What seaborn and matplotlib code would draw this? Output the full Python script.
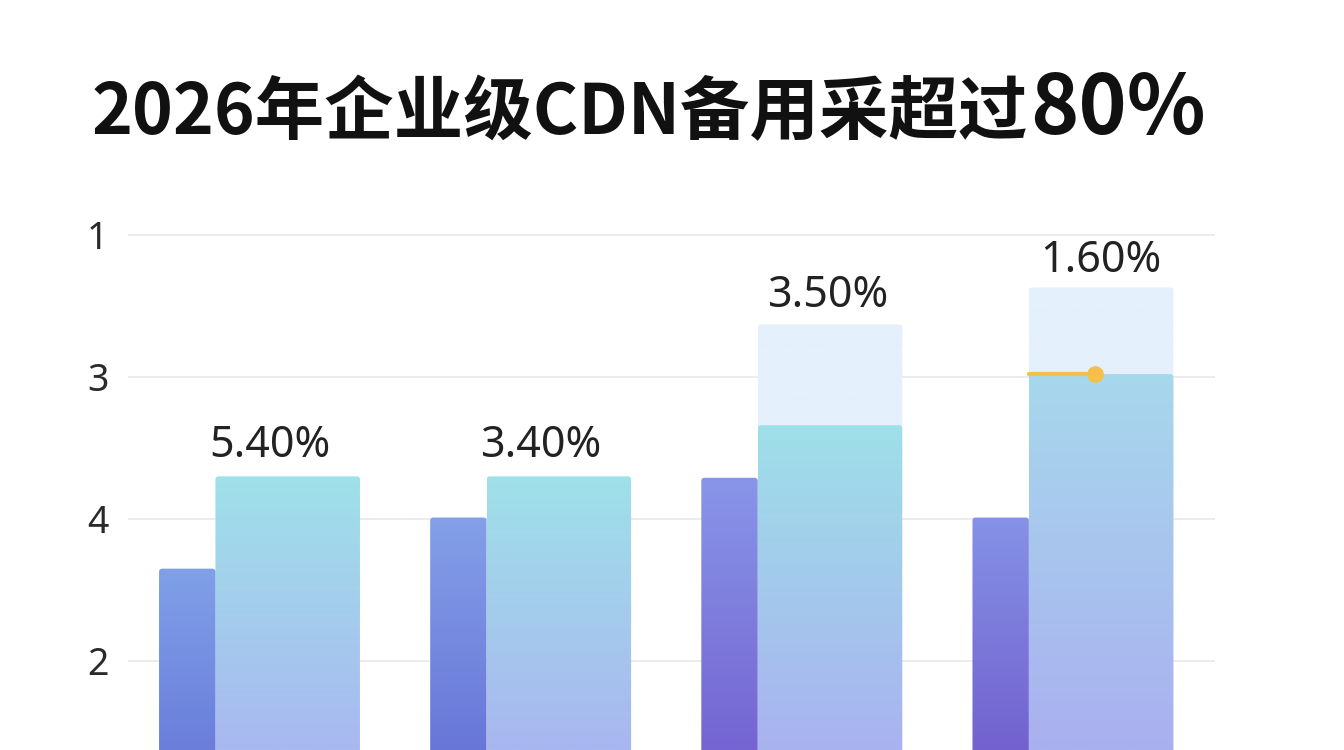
import numpy as np
import pandas as pd
import seaborn as sns
import matplotlib.pyplot as plt
from matplotlib.colors import to_rgb
from matplotlib.patches import FancyBboxPatch

# ---- data ----
groups = ['A', 'B', 'C', 'D']
dark_vals = [1.65, 2.01, 2.29, 2.01]
light_vals = [2.30, 2.30, 2.66, 3.02]
pale_vals = [0.0, 0.0, 3.37, 3.63]
pct_labels = ['5.40%', '3.40%', '3.50%', '1.60%']
marker_value = 3.02  # yellow marker on last group
tick_vals = [1, 2, 3, 4]
tick_text = ['2', '4', '3', '1']

title_main = '2026年企业级CDN备用采超过'
title_tail = '80%'

# ---- style ----
sns.set_style('white')
plt.rcParams['font.family'] = ['Noto Sans CJK SC', 'DejaVu Sans']

dark_top = ['#80A0E8', '#84A0E8', '#8896E8', '#8592E6']
dark_bot = ['#6A7EDA', '#6876D8', '#7564D2', '#7361CF']
light_top = ['#9FE1E9', '#9FE1E9', '#9EE0E8', '#A7D8EC']
light_bot = ['#A9B8F0', '#A9B6F0', '#A9B2F0', '#AAB0F0']
pale_col = '#E4F0FC'
label_dx = [-13, -13, -1.5, -0.5]   # points
label_dy = [14, 14, 12.5, 11]

light_w = 0.533
dark_w = 0.208

fig = plt.figure(figsize=(13.44, 7.5), dpi=100)
fig.patch.set_facecolor('white')
ax = fig.add_axes([128/1344, 0, (1215-128)/1344, 550/750])

df = pd.DataFrame({'group': groups, 'dark': dark_vals,
                   'light': light_vals, 'pale': pale_vals})

sns.barplot(data=df, x='group', y='pale', color=pale_col, width=light_w,
            ax=ax, zorder=1)
n_pale = len(ax.patches)
sns.barplot(data=df, x='group', y='light', color=light_top[0], width=light_w,
            ax=ax, zorder=2)
n_light = len(ax.patches)
sns.barplot(data=df, x='group', y='dark', color=dark_top[0], width=dark_w,
            ax=ax, zorder=2)

pale_p = ax.patches[:n_pale]
light_p = ax.patches[n_pale:n_light]
dark_p = ax.patches[n_light:]

# dark bars sit flush against the left of the light bars
for p in dark_p:
    p.set_x(p.get_x() - (light_w + dark_w) / 2)

ylo, yhi = 0.373, 4.246


def grad_fill(p, top, bot, z):
    x0, y0, w, h = p.get_x(), p.get_y(), p.get_width(), p.get_height()
    p.set_visible(False)
    if h <= 0:
        return
    clip = FancyBboxPatch((x0, y0), w, h,
                          boxstyle='round,pad=0,rounding_size=0.012',
                          mutation_aspect=1.9, facecolor='none',
                          edgecolor='none', transform=ax.transData)
    ax.add_patch(clip)
    t, b = np.array(to_rgb(top)), np.array(to_rgb(bot))
    f = np.linspace(0, 1, 256)[:, None]
    img = (t * (1 - f) + b * f)[:, None, :]
    im = ax.imshow(img, extent=[x0, x0 + w, ylo, y0 + h], aspect='auto',
                   origin='upper', zorder=z, interpolation='bilinear')
    im.set_clip_path(clip)


for i, p in enumerate(pale_p):
    grad_fill(p, pale_col, pale_col, 1)
for i, p in enumerate(light_p):
    grad_fill(p, light_top[i], light_bot[i], 2)
for i, p in enumerate(dark_p):
    grad_fill(p, dark_top[i], dark_bot[i], 2)

# percentage labels
for i, lab in enumerate(pct_labels):
    top = max(light_vals[i], pale_vals[i])
    ax.annotate(lab, (i, top), xytext=(label_dx[i], label_dy[i]),
                textcoords='offset points', ha='center', va='baseline',
                fontsize=31, color='#222222',
                family=['Noto Sans', 'DejaVu Sans'], zorder=5)

# yellow marker on the last group
k = len(groups) - 1
ax.plot([k - light_w / 2, k - 0.022], [marker_value, marker_value],
        color='#F4C04A', lw=3, solid_capstyle='round', zorder=4,
        marker='o', markersize=11, markevery=[1])

ax.set_xlim(-0.589, 3.42)
ax.set_ylim(ylo, yhi)
ax.set_yticks(tick_vals)
ax.set_yticklabels(tick_text, fontsize=27, color='#2A2A2A',
                   family=['Noto Sans', 'DejaVu Sans'])
ax.set_xticks([])
ax.set_xlabel('')
ax.set_ylabel('')
ax.tick_params(axis='y', length=0, pad=14)
ax.yaxis.grid(True, color='#E7E8EE', lw=1.2)
ax.set_axisbelow(True)
for s in ax.spines.values():
    s.set_visible(False)

# title, with the "80%" part a bit larger
t1 = fig.text(92/1344, 1 - 134/750, title_main, fontsize=50, fontweight='bold',
              color='#111111', va='baseline', ha='left')
r = fig.canvas.get_renderer()
bb = t1.get_window_extent(renderer=r)
fig.text((bb.x1 + 2) / fig.bbox.width, 1 - 134/750, title_tail, fontsize=59,
         fontweight='bold', color='#111111', va='baseline', ha='left')

fig.savefig('out.png', dpi=100, facecolor='white')
